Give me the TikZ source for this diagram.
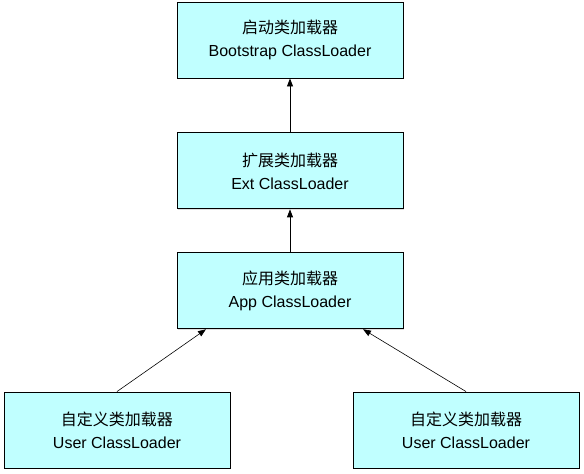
\documentclass[tikz,border=0pt]{standalone}
\usepackage{fontspec}
\setmainfont{Liberation Sans}
\newfontfamily\cjk{Noto Sans CJK SC}
\usetikzlibrary{positioning,arrows.meta,shadows}
\definecolor{loaderfill}{RGB}{192,255,255}
\begin{document}
\begin{tikzpicture}[
        x=1pt, y=1pt,
        loader/.style={draw, line width=0.9pt, fill=loaderfill, minimum width=226pt,
            minimum height=76pt, align=center, font=\fontsize{16}{23}\selectfont,
            drop shadow={shadow xshift=1.2pt, shadow yshift=-1.2pt, opacity=0.25}},
        parent/.style={-{Triangle[length=8pt, width=6pt]}, line width=0.8pt},
        child/.style={-{Triangle[length=8pt, width=6pt]}, line width=0.6pt}
    ]
        \useasboundingbox (0,0) rectangle (584,-474);

        % Loaders
        \node[loader] (boot) at (290,-40) {{\cjk 启动类加载器}\\Bootstrap ClassLoader};
        \node[loader, below=54pt of boot] (ext) {{\cjk 扩展类加载器}\\Ext ClassLoader};
        \node[loader, below=43pt of ext] (app) {{\cjk 应用类加载器}\\App ClassLoader};
        \node[loader] (userl) at (117,-430) {{\cjk 自定义类加载器}\\User ClassLoader};
        \node[loader] (userr) at (466,-430) {{\cjk 自定义类加载器}\\User ClassLoader};

        % Delegation
        \draw[parent] (ext.north) -- (boot.south);
        \draw[parent] (app.north) -- (ext.south);
        \draw[child] (userl.north) -- ([xshift=-84pt]app.south);
        \draw[child] (userr.north) -- ([xshift=73pt]app.south);
    \end{tikzpicture}
\end{document}
